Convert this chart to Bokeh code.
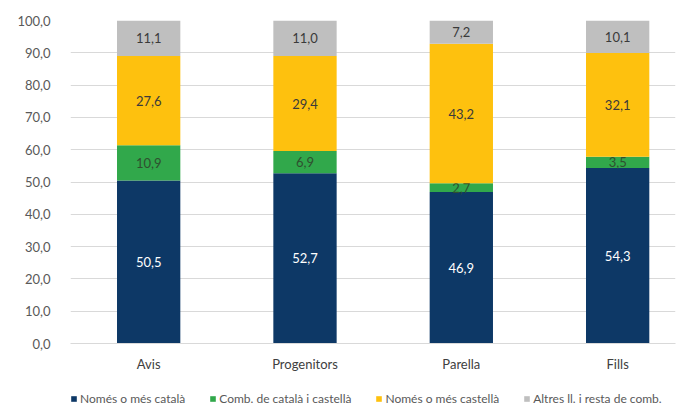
from bokeh.plotting import figure
from bokeh.models import ColumnDataSource, Range1d, FixedTicker, Legend, LegendItem
from bokeh.layouts import column
from bokeh.embed import file_html
from bokeh.resources import INLINE
from bokeh.core.properties import value

categories = ["Avis", "Progenitors", "Parella", "Fills"]
series_names = ["Només o més català", "Comb. de català i castellà",
                "Només o més castellà", "Altres ll. i resta de comb."]
nomes_catala = [50.5, 52.7, 46.9, 54.3]
comb_cat_cast = [10.9, 6.9, 2.7, 3.5]
nomes_castella = [27.6, 29.4, 43.2, 32.1]
altres = [11.1, 11.0, 7.2, 10.1]
y_ticks = [0, 10, 20, 30, 40, 50, 60, 70, 80, 90, 100]

series = [nomes_catala, comb_cat_cast, nomes_castella, altres]
colors = ["#0d3866", "#31a84b", "#fec10e", "#bfbfbf"]
label_colors = ["#ffffff", "#2f4f2f", "#3a3a3a", "#3a3a3a"]
FONT = "Lato"

xs = [i + 0.5 for i in range(len(categories))]

p = figure(width=682, height=385, output_backend="svg", toolbar_location=None,
           x_range=Range1d(0, 3.87), y_range=Range1d(0, 100),
           min_border_left=70, min_border_right=7, min_border_top=20,
           min_border_bottom=42)
p.outline_line_color = None
p.background_fill_color = "white"
p.border_fill_color = "white"

bottoms = [0.0] * len(categories)
for name, vals, col, lcol in zip(series_names, series, colors, label_colors):
    tops = [b + v for b, v in zip(bottoms, vals)]
    mids = [(b + t) / 2 for b, t in zip(bottoms, tops)]
    src = ColumnDataSource(dict(x=xs, bottom=bottoms, top=tops, mid=mids,
                                lab=[f"{v:.1f}".replace(".", ",") for v in vals]))
    p.vbar(x="x", bottom="bottom", top="top", width=0.405, source=src,
           fill_color=col, line_color=None)
    p.text(x="x", y="mid", text="lab", source=src, text_align="center",
           text_baseline="middle", text_font=value(FONT), text_font_size="13px",
           text_color=lcol)
    bottoms = tops

p.yaxis.ticker = FixedTicker(ticks=y_ticks)
p.yaxis.major_label_overrides = {t: f"{t:.1f}".replace(".", ",") for t in y_ticks}
p.yaxis.axis_line_color = None
p.yaxis.major_tick_line_color = None
p.yaxis.minor_tick_line_color = None
p.yaxis.major_label_text_font = FONT
p.yaxis.major_label_text_font_size = "13px"
p.yaxis.major_label_text_color = "#595959"
p.yaxis.major_label_standoff = 14

p.xaxis.ticker = FixedTicker(ticks=xs)
p.xaxis.major_label_overrides = {x: c for x, c in zip(xs, categories)}
p.xaxis.axis_line_color = "#d9d9d9"
p.xaxis.major_tick_line_color = None
p.xaxis.minor_tick_line_color = None
p.xaxis.major_label_text_font = FONT
p.xaxis.major_label_text_font_size = "13px"
p.xaxis.major_label_text_color = "#404040"
p.xaxis.major_label_standoff = 6

p.xgrid.grid_line_color = None
p.ygrid.grid_line_color = "#d9d9d9"
p.ygrid.ticker = FixedTicker(ticks=y_ticks)

# legend strip
lf = figure(width=682, height=25, output_backend="svg", toolbar_location=None,
            x_range=Range1d(0, 1), y_range=Range1d(0, 1),
            x_axis_location=None, y_axis_location=None,
            min_border_left=0, min_border_right=0, min_border_top=0,
            min_border_bottom=0)
lf.grid.visible = False
lf.outline_line_color = None
lf.border_fill_color = "white"
items = []
for name, col in zip(series_names, colors):
    r = lf.rect(x=[5], y=[5], width=0.1, height=0.1, fill_color=col, line_color=None)
    items.append(LegendItem(label=name, renderers=[r]))
legend = Legend(items=items, orientation="horizontal", location=(0, 4),
                label_text_font=FONT, label_text_font_size="12px",
                label_text_color="#595959", glyph_width=7, glyph_height=7,
                label_height=12, spacing=24, padding=0, margin=0,
                border_line_color=None, label_standoff=3,
                background_fill_alpha=0)
lf.add_layout(legend, "center")

layout = column(p, lf, spacing=0)
open("out.html", "w").write(file_html(layout, INLINE))
